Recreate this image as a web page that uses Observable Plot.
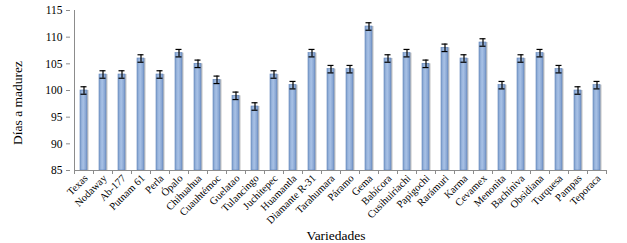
<!DOCTYPE html>
<html>
<head>
<meta charset="utf-8">
<script src="https://cdn.jsdelivr.net/npm/d3@7"></script>
<script src="https://cdn.jsdelivr.net/npm/@observablehq/plot@0.6"></script>
<style>
  html, body { margin: 0; padding: 0; background: #fff; }
  #chart { width: 627px; height: 243px; }
  #chart svg, #chart svg text { font-family: "Liberation Serif", "Times New Roman", Times, "DejaVu Serif", serif; }
</style>
</head>
<body>
<div id="chart"></div>
<script>
const variedades = ["Texas","Nodaway","Ab-177","Putnam 61","Perla","Ópalo","Chihuahua","Cuauhtémoc","Guelatao","Tulancingo","Juchitepec","Huamantla","Diamante R-31","Tarahumara","Páramo","Gema","Babícora","Cusihuiriachi","Papigochi","Rarámuri","Karma","Cevamex","Menonita","Bachíniva","Obsidiana","Turquesa","Pampas","Teporaca"];
const dias = [100,103,103,106,103,107,105,102,99,97,103,101,107,104,104,112,106,107,105,108,106,109,101,106,107,104,100,101];
const error = [0.7,0.7,0.7,0.7,0.7,0.7,0.7,0.7,0.7,0.7,0.7,0.7,0.7,0.7,0.7,0.7,0.7,0.7,0.7,0.7,0.7,0.7,0.7,0.7,0.7,0.7,0.7,0.7];
const yTicks = [85,90,95,100,105,110,115];
const yLabel = "Días a madurez";
const xLabel = "Variedades";

const data = variedades.map((v, i) => ({v, d: dias[i], e: error[i]}));
const font = "\"Liberation Serif\", \"Times New Roman\", Times, \"DejaVu Serif\", serif";

function axisLines(index, scales, values, dims) {
  const x = scales.x, y = scales.y;
  const step = x.step();
  const bw = x.bandwidth();
  const yb = y(yTicks[0]);
  const g = d3.create("svg:g").attr("stroke", "#8c8c8c").attr("stroke-width", 1).attr("shape-rendering", "crispEdges");
  const edges = variedades.map(c => x(c) + bw / 2 - step / 2);
  edges.push(x(variedades[variedades.length - 1]) + bw / 2 + step / 2);
  for (const e of edges) {
    g.append("line").attr("x1", e).attr("x2", e).attr("y1", yb).attr("y2", yb + 4);
  }
  g.append("line").attr("x1", edges[0]).attr("x2", edges[edges.length - 1]).attr("y1", yb).attr("y2", yb);
  g.append("line").attr("x1", edges[0]).attr("x2", edges[0]).attr("y1", y(yTicks[yTicks.length - 1])).attr("y2", yb);
  return g.node();
}

const chart = Plot.plot({
  width: 627,
  height: 243,
  marginLeft: 70,
  marginRight: 16,
  marginTop: 10,
  marginBottom: 73,
  style: {fontFamily: font, fontSize: "11px", color: "#000", background: "#fff"},
  x: {domain: variedades, paddingInner: 0.63, paddingOuter: 0.315, label: null, axis: null},
  y: {domain: [85, 115], ticks: yTicks, label: null, axis: null},
  marks: [
    Plot.barY(data, {x: "v", y1: 85, y2: "d", fill: "#c4c4c4", dx: 1.5}),
    Plot.barY(data, {x: "v", y1: 85, y2: "d", fill: "url(#barGrad)", stroke: "#5f83b8", strokeWidth: 0.6}),
    Plot.ruleX(data, {x: "v", y1: d => d.d - d.e, y2: d => d.d + d.e, stroke: "#000", strokeWidth: 1.2}),
    Plot.tickY(data, {x: "v", y: d => d.d - d.e, stroke: "#000", strokeWidth: 1.2, insetLeft: 6.5, insetRight: 6.5}),
    Plot.tickY(data, {x: "v", y: d => d.d + d.e, stroke: "#000", strokeWidth: 1.2, insetLeft: 6.5, insetRight: 6.5}),
    Plot.axisY({ticks: yTicks, tickSize: 4, tickPadding: 4, stroke: "#8c8c8c", fontSize: 11.5, label: null, fill: "#000"}),
    axisLines,
    Plot.axisX({tickSize: 0, tickRotate: -45, tickPadding: 6, fontSize: 10.5, label: null, fill: "#000", dx: 2}),
  ]
});

const svg = d3.select(chart);
const defs = svg.insert("defs", ":first-child");
const grad = defs.append("linearGradient").attr("id", "barGrad").attr("x1", "0").attr("x2", "1").attr("y1", "0").attr("y2", "0");
grad.append("stop").attr("offset", "0%").attr("stop-color", "#7f9fcd");
grad.append("stop").attr("offset", "45%").attr("stop-color", "#a9c2e6");
grad.append("stop").attr("offset", "100%").attr("stop-color", "#7a9acb");

svg.append("text").attr("transform", "translate(22,103) rotate(-90)").attr("text-anchor", "middle")
  .attr("font-size", 13.5).attr("fill", "#000").text(yLabel);
svg.append("text").attr("x", 336).attr("y", 240).attr("text-anchor", "middle")
  .attr("font-size", 13.5).attr("fill", "#000").text(xLabel);

document.getElementById("chart").appendChild(chart);
</script>
</body>
</html>
